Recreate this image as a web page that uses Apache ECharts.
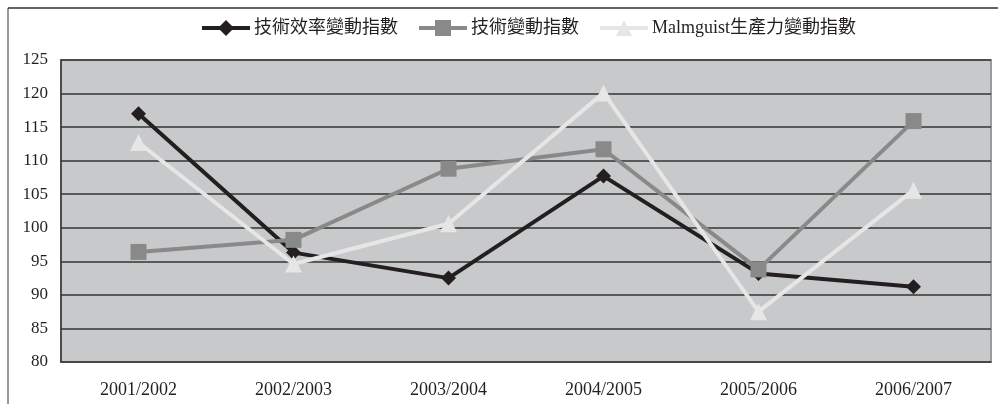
<!DOCTYPE html>
<html>
<head>
<meta charset="utf-8">
<script src="https://cdn.jsdelivr.net/npm/echarts@6/dist/echarts.min.js"></script>
<style>
  html, body { margin: 0; padding: 0; background: #fff; }
  #main { width: 998px; height: 404px; }
</style>
</head>
<body>
<div id="main"></div>
<script>
// 資料
var years = ['2001/2002', '2002/2003', '2003/2004', '2004/2005', '2005/2006', '2006/2007'];
var effChange = [117.0, 96.3, 92.5, 107.7, 93.2, 91.2];
var techChange = [96.4, 98.2, 108.8, 111.7, 93.8, 115.9];
var malmChange = [112.7, 94.6, 100.6, 120.1, 87.5, 105.6];
var seriesNames = ['技術效率變動指數', '技術變動指數', 'Malmguist生產力變動指數'];

var font = '"Liberation Serif", "Noto Sans CJK TC", serif';

var chart = echarts.init(document.getElementById('main'));

var option = {
  backgroundColor: '#fff',
  animation: false,
  textStyle: { fontFamily: font },
  graphic: [
    { type: 'line', shape: { x1: 8, y1: 8, x2: 998, y2: 8 }, style: { stroke: '#333', lineWidth: 1.5 } },
    { type: 'line', shape: { x1: 8, y1: 8, x2: 8, y2: 404 }, style: { stroke: '#333', lineWidth: 1 } }
  ],
  legend: {
    top: 14,
    left: 195,
    itemWidth: 48,
    itemHeight: 20,
    itemGap: 19,
    lineStyle: { width: 4 },
    textStyle: { fontFamily: font, fontSize: 18, color: '#231f20', padding: [0, 0, 0, -1] },
    data: seriesNames
  },
  grid: {
    left: 61, top: 60, width: 930, height: 302,
    show: true,
    backgroundColor: '#c8c9cb',
    borderColor: '#9a9a9a',
    borderWidth: 2
  },
  xAxis: {
    type: 'category',
    data: years,
    axisLine: { lineStyle: { color: '#444', width: 1.5 } },
    axisTick: { show: false },
    axisLabel: { fontFamily: font, fontSize: 18, color: '#231f20', margin: 19 }
  },
  yAxis: {
    type: 'value',
    min: 80, max: 125, interval: 5,
    axisLine: { show: true, lineStyle: { color: '#333', width: 1.5 } },
    axisTick: { show: false },
    axisLabel: { fontFamily: font, fontSize: 17, color: '#231f20', margin: 13 },
    splitLine: { lineStyle: { color: '#333', width: 1.5 } }
  },
  series: [
    {
      name: seriesNames[0], type: 'line', data: effChange,
      symbol: 'diamond', symbolSize: 15,
      lineStyle: { color: '#231f20', width: 4 },
      itemStyle: { color: '#231f20' }
    },
    {
      name: seriesNames[1], type: 'line', data: techChange,
      symbol: 'rect', symbolSize: 16,
      lineStyle: { color: '#898989', width: 4 },
      itemStyle: { color: '#898989' }
    },
    {
      name: seriesNames[2], type: 'line', data: malmChange,
      symbol: 'triangle', symbolSize: 17,
      lineStyle: { color: '#e6e6e6', width: 4 },
      itemStyle: { color: '#e6e6e6' }
    }
  ]
};

chart.setOption(option);
</script>
</body>
</html>
